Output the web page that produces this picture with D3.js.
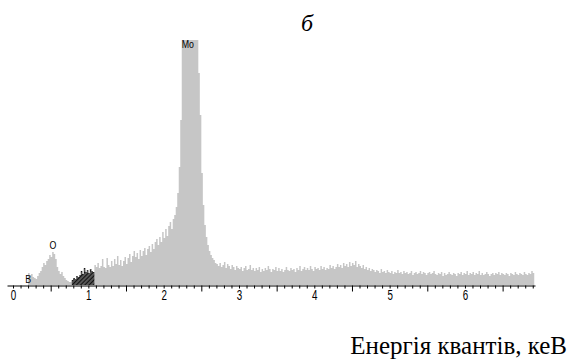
<!DOCTYPE html>
<html>
<head>
<meta charset="utf-8">
<script src="https://cdn.jsdelivr.net/npm/d3@7"></script>
<style>
  body { margin: 0; background: #fff; }
  svg { display: block; }
</style>
</head>
<body>
<div id="chart"></div>
<script>
// spectrum channels: start energy, step (keV) and counts per channel
const startKeV = 0.2;
const stepKeV = 0.02;
const counts = [
  12, 10, 11, 8, 7, 6,
  9, 12, 14, 18, 22,
  20, 24, 26, 30, 28,
  33, 31, 26, 18, 14,
  11, 13, 9, 7, 5,
  4, 3, 3, 5, 7,
  6, 9, 8, 10, 14,
  11, 17, 13, 15, 12,
  16, 14, 13, 20, 18,
  22, 17, 19, 26, 18,
  17, 27, 20, 18, 24,
  19, 26, 21, 29, 20,
  25, 19, 24, 28, 21,
  27, 31, 23, 29, 34,
  28, 32, 26, 35, 29,
  34, 37, 30, 36, 39,
  33, 41, 36, 43, 46,
  40, 48, 43, 53, 47,
  56, 49, 59, 63, 56,
  66, 70, 78, 92, 118,
  165, 262, 290, 300, 300,
  300, 300, 300, 300, 300,
  290, 262, 212, 170, 112,
  80, 60, 48, 40, 34,
  30, 27, 25, 22, 21,
  19, 22, 18, 20, 23,
  17, 21, 19, 16, 20,
  18, 15, 19, 17, 16,
  18, 14, 17, 19, 15,
  16, 20, 15, 17, 14,
  17, 15, 18, 13, 16,
  14, 17, 15, 19, 16,
  13, 16, 15, 18, 14,
  17, 14, 16, 13, 15,
  18, 15, 14, 17, 15,
  16, 13, 17, 15, 19,
  14, 16, 18, 15, 17,
  15, 19, 16, 14, 18,
  16, 17, 15, 19, 16,
  18, 15, 17, 16, 20,
  17, 19, 16, 18, 21,
  18, 20, 17, 22, 19,
  21, 18, 23, 19, 22,
  20, 24, 18, 21, 19,
  17, 20, 16, 18, 15,
  17, 14, 16, 15, 13,
  15, 14, 12, 16, 13,
  14, 12, 15, 13, 12,
  14, 11, 13, 12, 15,
  12, 13, 11, 14, 12,
  13, 11, 12, 14, 10,
  12, 13, 11, 12, 14,
  11, 13, 12, 10, 12,
  13, 11, 12, 14, 11,
  10, 12, 11, 13, 9,
  12, 10, 11, 13, 11,
  10, 12, 11, 9, 12,
  11, 13, 10, 12, 11,
  14, 10, 12, 11, 13,
  10, 12, 11, 14, 10,
  12, 10, 11, 13, 11,
  9, 11, 12, 10, 12,
  11, 13, 10, 12, 11,
  10, 12, 11, 9, 12,
  11, 10, 13, 11, 10,
  12, 11, 10, 13, 11,
  10, 12, 11, 14, 12,
  11
];

// hatched (highlighted) energy window
const hatchRange = [0.78, 1.08];

// element line labels
const peakLabels = [
  { name: 'B', keV: 0.2, count: 0 },
  { name: 'O', keV: 0.53, count: 34 },
  { name: 'Mo', keV: 2.32, count: 235 }
];

const tickLabels = ['0', '1', '2', '3', '4', '5', '6'];
const panelLabel = 'б';
const xTitle = 'Енергія квантів, кеВ';

const width = 572;
const height = 360;
const labelFont = '"Liberation Sans", Arial, sans-serif';

const data = counts.map((c, i) => ({ e: +(startKeV + i * stepKeV).toFixed(2), c }));

const svg = d3.select('#chart')
  .append('svg')
  .attr('width', width)
  .attr('height', height);

const x = d3.scaleLinear().domain([-0.08, 6.93]).range([7, 535]);
const y = d3.scaleLinear().domain([0, 245]).range([285, 40]).clamp(true);

const defs = svg.append('defs');
const pat = defs.append('pattern')
  .attr('id', 'hatch')
  .attr('patternUnits', 'userSpaceOnUse')
  .attr('width', 3)
  .attr('height', 3)
  .attr('patternTransform', 'rotate(45)');
pat.append('rect').attr('width', 3).attr('height', 3).attr('fill', '#555');
pat.append('line')
  .attr('x1', 0).attr('y1', 0).attr('x2', 0).attr('y2', 3)
  .attr('stroke', '#111').attr('stroke-width', 2);

const area = d3.area()
  .x(d => x(d.e))
  .y0(y(0))
  .y1(d => y(d.c))
  .curve(d3.curveStepAfter);

svg.append('path')
  .datum(data)
  .attr('fill', '#c6c6c6')
  .attr('d', area);

svg.append('path')
  .datum(data.filter(d => d.e >= hatchRange[0] && d.e <= hatchRange[1]))
  .attr('fill', 'url(#hatch)')
  .attr('d', area);

// axis: minor ticks every 0.1 keV, longer at half-integers
const tickVals = d3.range(0, 70).map(i => i / 10);
const xAxis = d3.axisBottom(x)
  .tickValues(tickVals)
  .tickSizeOuter(0)
  .tickFormat(d => Math.abs(d - Math.round(d)) < 1e-6 ? tickLabels[Math.round(d)] : '');

const gx = svg.append('g')
  .attr('transform', 'translate(0,285.5)')
  .call(xAxis);

gx.select('.domain').attr('stroke', '#000');
gx.selectAll('.tick line')
  .attr('stroke', '#000')
  .attr('y2', d => Math.abs(d * 10 % 10 - 5) < 1e-6 ? 6 : 3);
// narrow, tall digits like the original bitmap font
gx.selectAll('.tick text')
  .attr('y', 5)
  .attr('fill', '#000')
  .attr('transform', 'scale(0.7,1)')
  .style('font-family', labelFont)
  .style('font-size', '14px');

svg.append('g')
  .selectAll('g')
  .data(peakLabels)
  .enter()
  .append('g')
  .attr('transform', d => `translate(${x(d.keV)},${y(d.count) - 2})`)
  .append('text')
  .attr('text-anchor', 'middle')
  .attr('transform', 'scale(0.8,1)')
  .attr('fill', '#000')
  .style('font-family', labelFont)
  .style('font-size', '11px')
  .text(d => d.name);

svg.append('text')
  .attr('x', 307)
  .attr('y', 31)
  .attr('text-anchor', 'middle')
  .style('font-family', '"Liberation Serif", "Times New Roman", serif')
  .style('font-style', 'italic')
  .style('font-size', '24px')
  .text(panelLabel);

svg.append('text')
  .attr('x', 567)
  .attr('y', 354)
  .attr('text-anchor', 'end')
  .style('font-family', '"Liberation Serif", "Times New Roman", serif')
  .style('font-size', '25px')
  .text(xTitle);
</script>
</body>
</html>
